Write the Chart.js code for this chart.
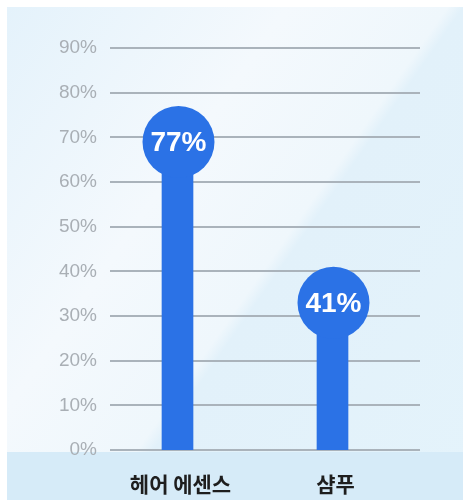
<!DOCTYPE html>
<html>
<head>
<meta charset="utf-8">
<script src="https://cdn.jsdelivr.net/npm/chart.js@4"></script>
<style>
  html, body { margin: 0; padding: 0; background: #fff; }
  #wrap { position: relative; width: 463px; height: 500px; overflow: hidden; }
  #bg {
    position: absolute; left: 7px; top: 7px; right: 0; bottom: 0;
    background:
      linear-gradient(to bottom, rgba(0,0,0,0) 0, rgba(0,0,0,0) 445px, #d6ebf8 445px),
      linear-gradient(125deg, #e4f2fb 0%, #f4f9fd 35%, #eff7fc 55%, #e2f1fa 57%, #e4f3fb 100%);
  }
  canvas { position: absolute; left: 0; top: 0; }
</style>
</head>
<body>
<div id="wrap">
  <div id="bg"></div>
  <canvas id="c" width="463" height="500"></canvas>
</div>
<script>
const categories = ["헤어 에센스", "샴푸"];
const shares = [77, 41];
const yTicks = [0, 10, 20, 30, 40, 50, 60, 70, 80, 90];

const barBlue = "#2b72e6";
const badgeR = 36;

// grid lines drawn a bit to the right of the plot, like the source
const gridPlugin = {
  id: "shiftedGrid",
  beforeDatasetsDraw(chart) {
    const { ctx, chartArea, scales } = chart;
    ctx.save();
    ctx.strokeStyle = "#aab3bb";
    ctx.lineWidth = 2;
    yTicks.forEach((t) => {
      const y = Math.round(scales.y.getPixelForValue(t));
      ctx.beginPath();
      ctx.moveTo(chartArea.left + 10, y);
      ctx.lineTo(chartArea.right + 10, y);
      ctx.stroke();
    });
    ctx.restore();
  }
};

// bars stop at the badge centre so no square corners show above it,
// then a round badge is drawn on top of every bar
const badgePlugin = {
  id: "badges",
  beforeDatasetDraw(chart, args) {
    const { ctx } = chart;
    ctx.save();
    ctx.beginPath();
    args.meta.data.forEach((bar) => {
      ctx.rect(bar.x - 40, bar.y + badgeR, 80, chart.height);
    });
    ctx.clip();
  },
  afterDatasetDraw(chart) {
    chart.ctx.restore();
  },
  afterDatasetsDraw(chart) {
    const { ctx } = chart;
    chart.getDatasetMeta(0).data.forEach((bar, i) => {
      const cx = bar.x + 1;
      const cy = bar.y + badgeR;
      ctx.save();
      ctx.fillStyle = barBlue;
      ctx.beginPath();
      ctx.arc(cx, cy, badgeR, 0, Math.PI * 2);
      ctx.fill();
      ctx.fillStyle = "#ffffff";
      ctx.font = "bold 28px 'Liberation Sans', Arial, sans-serif";
      ctx.textAlign = "center";
      ctx.textBaseline = "middle";
      ctx.fillText(shares[i] + "%", cx, cy + 1);
      ctx.restore();
    });
  }
};

new Chart(document.getElementById("c"), {
  type: "bar",
  data: {
    labels: categories,
    datasets: [{
      data: shares,
      backgroundColor: barBlue,
      barThickness: 31,
      borderWidth: 0
    }]
  },
  options: {
    responsive: false,
    animation: false,
    events: [],
    layout: { padding: { left: 0, right: 53, top: 48, bottom: 0 } },
    plugins: { legend: { display: false }, tooltip: { enabled: false } },
    scales: {
      x: {
        grid: { display: false },
        border: { display: false },
        ticks: {
          color: "#1e1e1e",
          padding: 13,
          labelOffset: 3,
          font: { family: "'Noto Sans CJK KR', sans-serif", size: 21, weight: "bold" }
        },
        afterFit(scale) { scale.height = 50; }
      },
      y: {
        min: 0,
        max: 90,
        grid: { display: false, drawTicks: false },
        border: { display: false },
        afterBuildTicks(scale) { scale.ticks = yTicks.map((v) => ({ value: v })); },
        ticks: {
          color: "#a9afb5",
          padding: 3,
          font: { family: "'Liberation Sans', Arial, sans-serif", size: 19 },
          callback: (v) => v + "%"
        },
        afterFit(scale) { scale.width = 100; }
      }
    }
  },
  plugins: [gridPlugin, badgePlugin]
});
</script>
</body>
</html>
